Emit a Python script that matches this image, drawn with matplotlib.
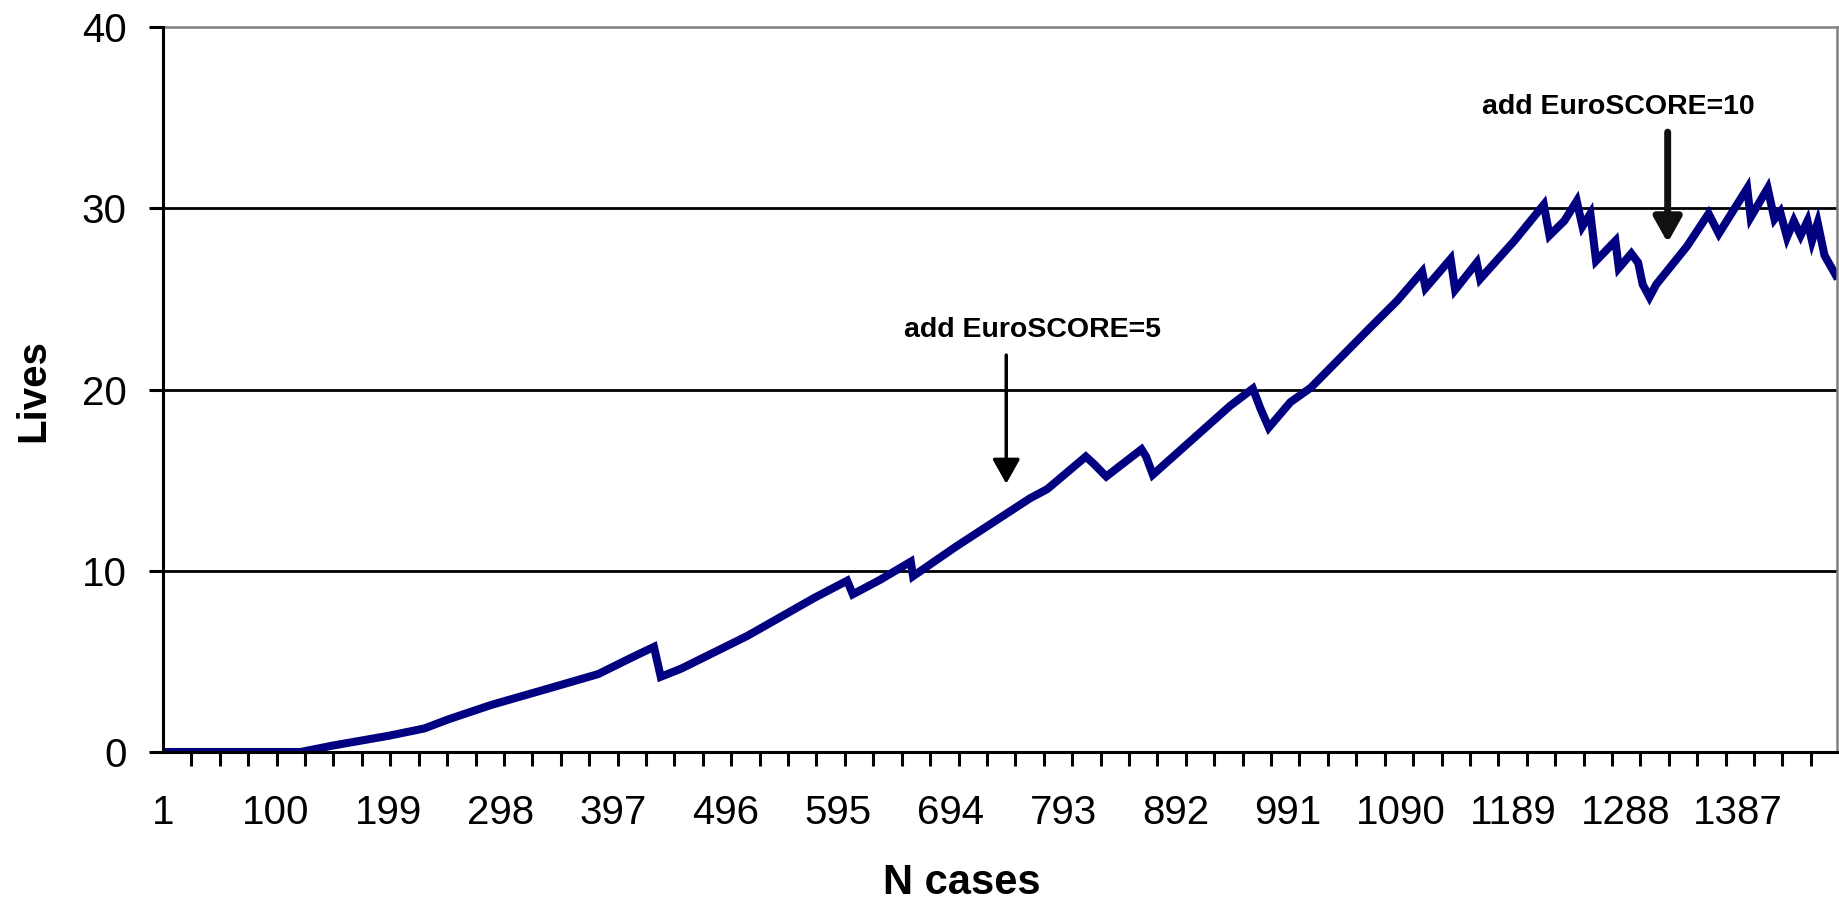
import matplotlib
matplotlib.use("Agg")
import matplotlib.pyplot as plt
from matplotlib.patches import ArrowStyle

plt.rcParams['font.family'] = ['Liberation Sans', 'DejaVu Sans']

# ---- data ----
n_cases = [1, 122, 150, 200, 231, 252, 290, 340, 384, 413, 433, 439, 457, 515, 574,
           603, 608, 632, 659, 661, 698, 720, 764, 779, 813, 820, 831, 862, 866, 872,
           940, 960, 967, 974, 993, 1011, 1063, 1087, 1109, 1112, 1134, 1138, 1157,
           1160, 1190, 1216, 1221, 1234, 1245, 1250, 1257, 1262, 1279, 1282, 1293,
           1299, 1303, 1309, 1315, 1342, 1361, 1370, 1395, 1398, 1413, 1419, 1424,
           1430, 1436, 1442, 1448, 1452, 1457, 1463, 1473]
lives = [0.0, 0.0, 0.35, 0.9, 1.3, 1.8, 2.6, 3.5, 4.3, 5.2, 5.8, 4.15, 4.6, 6.4, 8.5,
         9.45, 8.7, 9.5, 10.5, 9.7, 11.3, 12.2, 14.0, 14.5, 16.3, 15.9, 15.2, 16.7, 16.3, 15.3,
         19.1, 20.05, 18.9, 17.9, 19.3, 20.1, 23.4, 24.9, 26.5, 25.6, 27.2, 25.5, 27.0,
         26.1, 28.2, 30.2, 28.5, 29.3, 30.4, 29.0, 29.7, 27.1, 28.2, 26.7, 27.5,
         27.0, 25.8, 25.1, 25.8, 27.9, 29.7, 28.6, 31.1, 29.5, 31.1, 29.4, 29.8,
         28.4, 29.3, 28.5, 29.3, 28.2, 29.2, 27.4, 26.3]

x_tick_labels = ['1', '100', '199', '298', '397', '496', '595', '694', '793',
                 '892', '991', '1090', '1189', '1288', '1387']
y_ticks = [0, 10, 20, 30, 40]

annot_text = ['add EuroSCORE=5', 'add EuroSCORE=10']
annot_case = [743, 1325]

# ---- figure ----
fig = plt.figure(figsize=(18.4, 9.02), dpi=100)
ax = fig.add_axes([163/1840, 1-752/902, 1674/1840, 725/902])

ax.set_xlim(1, 1474)
ax.set_ylim(0, 40)

# grid lines at 10, 20, 30
for yv in y_ticks[1:-1]:
    ax.axhline(yv, color='black', lw=2.0, zorder=1)

ax.plot(n_cases, lives, color='#000080', lw=5.8, solid_joinstyle='miter', zorder=2)

# spines
for s in ['left', 'bottom']:
    ax.spines[s].set_linewidth(2.2)
    ax.spines[s].set_color('black')
    ax.spines[s].set_zorder(3)
for s in ['top', 'right']:
    ax.spines[s].set_linewidth(1.8)
    ax.spines[s].set_color('#808080')

# y axis
ax.set_yticks(y_ticks)
ax.set_yticklabels([str(v) for v in y_ticks])
ax.tick_params(axis='y', direction='out', length=10, width=2.2, pad=16,
               labelsize=29, colors='black')

# x axis: tick marks every 25 cases, labels every 99 cases
ax.set_xticks([int(l) for l in x_tick_labels])
ax.set_xticklabels(x_tick_labels)
ax.set_xticks(list(range(1, 1474, 25)), minor=True)
ax.tick_params(axis='x', which='major', length=0, pad=30, labelsize=29)
ax.tick_params(axis='x', which='minor', direction='out', length=10, width=2.2)

ax.set_xlabel('N cases', fontsize=30, fontweight='bold', va='center')
ax.xaxis.set_label_coords(0.477, -0.180)
ax.set_ylabel('Lives', fontsize=29, fontweight='bold', va='center')
ax.yaxis.set_label_coords(-0.0775, 0.499)

# annotations
style = ArrowStyle('-|>', head_length=0.5, head_width=0.28)
ax.annotate('', xy=(annot_case[0], 14.8), xytext=(annot_case[0], 21.9),
            arrowprops=dict(arrowstyle=style, color='black', lw=2.5,
                            mutation_scale=30, shrinkA=0, shrinkB=0))
ax.text(766, 23.3, annot_text[0], ha='center', va='center', fontsize=20.5,
        fontweight='bold')
ax.annotate('', xy=(annot_case[1], 28.1), xytext=(annot_case[1], 34.2),
            arrowprops=dict(arrowstyle=style, color='#111111', lw=5,
                            mutation_scale=30, shrinkA=0, shrinkB=0))
ax.text(1282, 35.6, annot_text[1], ha='center', va='center', fontsize=20.5,
        fontweight='bold')

fig.savefig('out.png', dpi=100, facecolor='white')
